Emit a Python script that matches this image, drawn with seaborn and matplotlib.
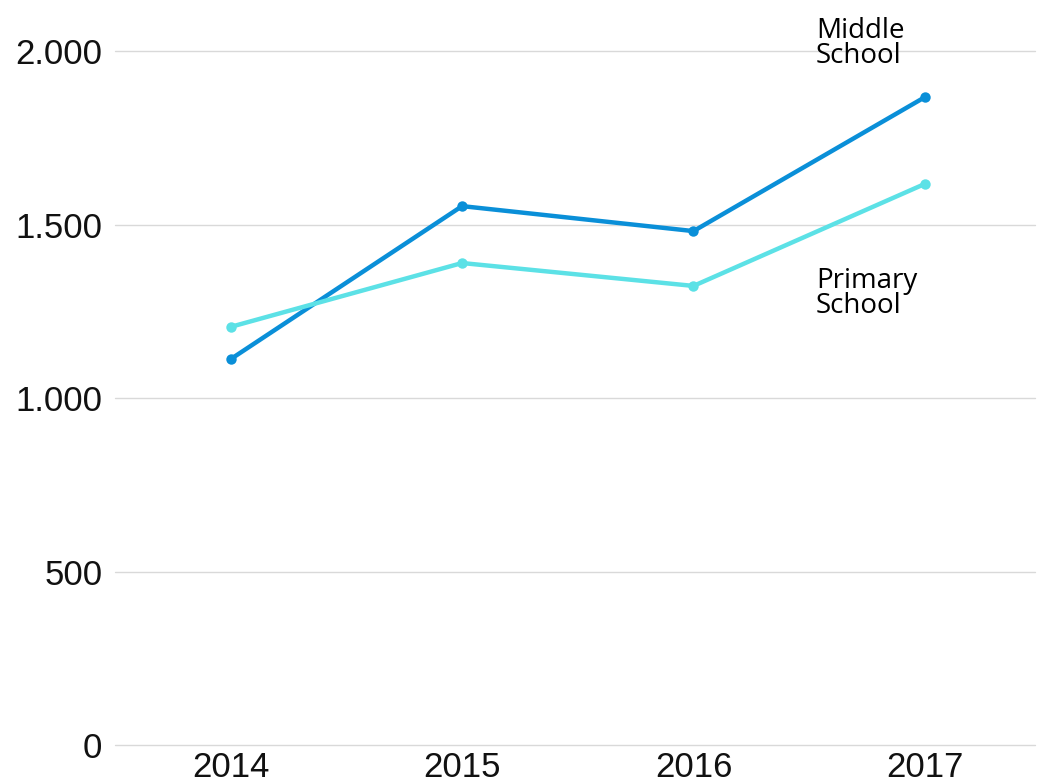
import pandas as pd
import matplotlib.pyplot as plt
import matplotlib.ticker as mticker
import seaborn as sns

years = [2014, 2015, 2016, 2017]
middle_school = [1112, 1553, 1481, 1867]
primary_school = [1205, 1389, 1323, 1617]
series_names = ['Middle\nSchool', 'Primary\nSchool']
colors = ['#0a8fd8', '#5ce1e6']

df = pd.DataFrame({
    'year': years * 2,
    'value': middle_school + primary_school,
    'series': [series_names[0]] * 4 + [series_names[1]] * 4,
})

sns.set_style('white')
plt.rcParams['font.family'] = ['Liberation Sans', 'DejaVu Sans']

fig = plt.figure(figsize=(10.37, 7.82), dpi=100)
ax = fig.add_axes([115 / 1037, 37 / 782, 920 / 1037, 745 / 782])

sns.lineplot(data=df, x='year', y='value', hue='series', palette=colors,
             marker='o', markersize=7.5, markeredgewidth=0, linewidth=3.2,
             legend=False, ax=ax, zorder=3)

ax.set_xlim(2013.5, 2017.476)
ax.set_ylim(0, 2147)
ax.set_yticks([0, 500, 1000, 1500, 2000])
ax.set_xticks(years)
ax.yaxis.set_major_formatter(mticker.FuncFormatter(lambda v, p: f'{int(v):,}'.replace(',', '.')))
ax.grid(axis='y', color='#d9d9d9', linewidth=1)
for gl in ax.get_ygridlines():
    gl.set_clip_on(False)
ax.tick_params(axis='both', length=0, labelsize=25, colors='#111111')
ax.tick_params(axis='y', pad=9)
ax.tick_params(axis='x', pad=4)
for s in ax.spines.values():
    s.set_visible(False)
ax.set_xlabel('')
ax.set_ylabel('')

ax.text(2016.53, 2098, series_names[0], va='top', ha='left', fontsize=20,
        family=['Open Sans', 'DejaVu Sans'], linespacing=0.85, color='black')
ax.text(2016.53, 1377, series_names[1], va='top', ha='left', fontsize=20,
        family=['Open Sans', 'DejaVu Sans'], linespacing=0.85, color='black')

fig.savefig('out.png', dpi=100)
